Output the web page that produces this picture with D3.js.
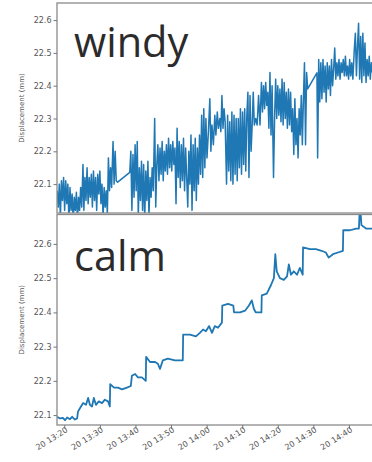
<!DOCTYPE html>
<html>
<head>
<meta charset="utf-8">
<script src="https://cdn.jsdelivr.net/npm/d3@7"></script>
<style>
  body { margin: 0; background: #fff; }
  svg { display: block; }
</style>
</head>
<body>
<div id="chart"></div>
<script>
// minutes after 13:20 on day 20, displacement in mm
const windyData = [
  [-2.0,22.08],[-1.7,22.03],[-1.4,22.10],[-1.1,22.0],[-0.8,22.11],[-0.5,22.05],[-0.2,22.12],[0.1,22.02],[0.4,22.11],[0.7,22.04],
  [1.0,22.10],[1.3,21.99],[1.6,22.09],[1.9,22.02],[2.2,22.07],[2.5,21.99],
  [2.8,22.06],[3.1,22.02],[3.4,22.075],[3.7,21.99],[4.0,22.06],[4.3,22.02],
  [4.6,22.09],[4.9,22.03],[5.25,22.16],[5.5,22.02],[5.8,22.12],[6.1,22.05],
  [6.4,22.15],[6.7,22.04],[7.0,22.12],[7.3,22.06],[7.6,22.13],[7.9,22.03],
  [8.2,22.14],[8.5,22.05],[8.8,22.12],[9.1,22.02],[9.4,22.13],[9.7,22.07],[10.0,22.14],
  [10.3,22.04],[10.6,22.10],[10.9,22.0],[11.2,22.09],[11.5,22.03],[11.8,22.08],[12.1,22.01],
  [12.4,22.18],[12.7,22.08],[13.0,22.15],[13.3,22.09],
  [13.7,22.23],[14.0,22.10],[14.3,22.20],[14.6,22.11],
  [15.0,22.106],[18.4,22.136],
  [18.7,22.20],[19.0,22.02],[19.3,22.19],[19.6,22.06],
  [19.9,22.22],[20.2,22.08],[20.5,22.23],[20.8,22.0],[21.1,22.15],[21.4,22.05],
  [21.7,22.17],[22.0,22.02],[22.3,22.16],[22.6,21.99],[22.9,22.14],[23.2,22.05],[23.5,22.17],[23.8,22.0],[24.1,22.12],
  [24.4,22.06],[24.7,22.15],[25.0,22.08],[25.4,22.30],[25.7,22.03],[26.0,22.16],
  [26.3,22.22],[26.6,22.11],[26.9,22.21],[27.2,22.13],[27.5,22.23],[27.8,22.11],[28.1,22.20],[28.4,22.14],[28.7,22.22],
  [29.0,22.13],[29.3,22.24],[29.6,22.15],[29.9,22.22],[30.2,22.14],[30.5,22.23],[30.8,22.16],
  [31.1,22.21],[31.4,22.04],[31.7,22.27],[32.0,22.12],
  [32.3,22.23],[32.6,22.09],[32.9,22.22],[33.2,22.11],[33.5,22.24],[33.8,22.08],[34.1,22.21],[34.4,22.12],[34.7,22.03],
  [35.0,22.20],[35.3,22.10],[35.6,22.25],[35.9,22.02],[36.2,22.22],[36.5,22.08],[36.8,22.24],[37.1,22.05],[37.4,22.21],[37.7,22.10],[38.0,22.25],
  [38.3,22.13],[38.6,22.31],[38.9,22.12],[39.2,22.33],[39.5,22.15],[39.8,22.30],
  [40.1,22.18],[40.5,22.26],[40.9,22.36],[41.2,22.20],[41.5,22.28],
  [41.9,22.22],[42.3,22.31],[42.6,22.25],[43.0,22.32],[43.3,22.27],[43.7,22.30],
  [44.0,22.26],[44.3,22.37],[44.6,22.27],[44.9,22.33],
  [45.2,22.29],[45.6,22.10],[45.9,22.31],[46.2,22.14],[46.5,22.29],
  [46.8,22.11],[47.1,22.32],[47.4,22.10],[47.7,22.31],[48.0,22.13],[48.3,22.30],[48.6,22.11],
  [48.9,22.30],[49.2,22.15],[49.5,22.33],[49.8,22.13],[50.1,22.32],[50.4,22.16],[50.7,22.33],[51.0,22.14],[51.3,22.31],
  [51.6,22.38],[51.9,22.12],[52.2,22.37],[52.5,22.20],
  [52.8,22.28],[53.1,22.38],[53.4,22.28],[53.8,22.30],[54.2,22.28],[54.6,22.37],[55.0,22.28],
  [55.4,22.41],[55.7,22.32],[56.0,22.40],[56.3,22.33],[56.6,22.41],[56.9,22.34],
  [57.2,22.38],[57.5,22.27],[57.8,22.44],[58.1,22.25],[58.4,22.40],[58.8,22.12],[59.1,22.30],
  [59.4,22.42],[59.7,22.30],[60.0,22.40],[60.3,22.31],[60.6,22.39],
  [60.9,22.29],[61.2,22.42],[61.5,22.28],[61.8,22.41],[62.1,22.30],[62.4,22.38],
  [62.7,22.27],[63.0,22.39],[63.3,22.28],[63.6,22.38],[63.9,22.26],
  [64.2,22.33],[64.5,22.19],[64.8,22.36],[65.1,22.22],[65.4,22.30],[65.7,22.18],[66.0,22.33],
  [66.3,22.25],[66.6,22.37],[66.9,22.22],
  [67.2,22.36],[67.5,22.47],[67.8,22.22],[68.1,22.44],[68.4,22.39],
  [71.0,22.439],
  [71.2,22.18],[71.5,22.48],[71.8,22.35],
  [72.1,22.47],[72.4,22.36],[72.7,22.48],[73.0,22.38],[73.3,22.46],[73.6,22.35],
  [73.9,22.47],[74.2,22.39],[74.5,22.46],[74.8,22.37],[75.1,22.48],[75.4,22.40],
  [75.7,22.45],[76.0,22.515],[76.3,22.42],[76.6,22.47],
  [76.9,22.43],[77.2,22.48],[77.5,22.42],[77.8,22.47],[78.1,22.44],[78.4,22.48],[78.7,22.43],
  [79.0,22.49],[79.3,22.43],[79.6,22.46],[79.9,22.42],[80.2,22.48],[80.5,22.43],[80.8,22.47],
  [81.1,22.42],[81.5,22.51],[81.8,22.56],[82.1,22.43],
  [82.4,22.52],[82.7,22.59],[83.0,22.42],[83.3,22.55],
  [83.6,22.41],[83.9,22.56],[84.2,22.43],[84.5,22.53],[84.8,22.41],
  [85.1,22.48],[85.4,22.43],[85.7,22.49],[86.0,22.42],[86.3,22.47],[86.6,22.44]
];

const calmData = [
  [-2.05,22.095],[-1.2,22.09],[-0.4,22.092],[0.2,22.085],[0.8,22.093],[1.6,22.088],[2.2,22.095],[3.0,22.087],[3.6,22.09],
  [3.85,22.11],[4.4,22.12],[5.3,22.135],[6.1,22.13],[6.7,22.15],[7.2,22.13],[7.8,22.125],[8.3,22.15],[8.9,22.13],
  [9.7,22.14],[10.6,22.135],[11.4,22.145],[12.3,22.14],[12.8,22.125],
  [12.9,22.19],[14.0,22.18],[15.1,22.18],[16.2,22.175],[17.6,22.18],[18.7,22.185],
  [19.0,22.215],[19.9,22.22],[20.7,22.21],[21.8,22.21],[22.9,22.20],
  [23.0,22.27],[24.1,22.255],[25.5,22.255],[26.3,22.25],[26.9,22.235],[27.7,22.26],[29.1,22.265],[31.1,22.26],[33.3,22.26],
  [33.4,22.335],[35.3,22.335],[37.0,22.33],[38.1,22.34],[39.0,22.35],[39.8,22.345],[40.7,22.36],[41.5,22.34],[42.3,22.36],[43.2,22.355],[44.3,22.37],
  [44.4,22.42],[46.0,22.425],[47.5,22.42],[47.7,22.40],[49.4,22.40],[50.8,22.405],[51.9,22.42],[52.7,22.435],[53.3,22.41],[53.8,22.40],[55.4,22.40],
  [55.5,22.45],[56.9,22.455],[58.1,22.48],[58.9,22.50],[59.3,22.57],[59.7,22.52],[60.6,22.50],[61.7,22.495],[62.6,22.505],
  [63.1,22.54],[63.7,22.51],[64.5,22.52],[65.4,22.51],[66.2,22.53],[67.0,22.51],
  [67.1,22.59],[69.0,22.585],[70.7,22.585],[72.3,22.58],[73.5,22.575],[74.3,22.56],[75.5,22.57],[76.9,22.575],[78.3,22.58],
  [78.4,22.64],[80.3,22.64],[82.0,22.645],[82.8,22.645],[83.1,22.72],[83.5,22.655],[84.8,22.645],[86.5,22.645]
];

const yTicks = [22.1, 22.2, 22.3, 22.4, 22.5, 22.6];
const windyDomain = [22.012, 22.652];
const calmDomain = [22.071, 22.686];
const panelNames = ["windy", "calm"];

const width = 372, height = 462;
const left = 57, right = 376;
const blue = "#1f77b4";
const base = new Date(2021, 0, 20, 13, 20);
const toDate = m => new Date(base.getTime() + m * 60000);

const svg = d3.select("#chart").append("svg")
  .attr("width", width)
  .attr("height", height);

const x = d3.scaleTime()
  .domain([toDate(-2.05), toDate(87.6)])
  .range([left, right]);

const panels = [
  {name: panelNames[0], data: windyData, domain: windyDomain, top: 3, bottom: 213, labelY: 57, showX: false},
  {name: panelNames[1], data: calmData, domain: calmDomain, top: 214.5, bottom: 425, labelY: 271, showX: true}
];

panels.forEach((p, i) => {
  const y = d3.scaleLinear().domain(p.domain).range([p.bottom, p.top]);
  const g = svg.append("g");

  g.append("clipPath").attr("id", "clip" + i)
    .append("rect")
    .attr("x", left).attr("y", p.top)
    .attr("width", right - left).attr("height", p.bottom - p.top);

  const line = d3.line()
    .x(d => x(toDate(d[0])))
    .y(d => y(d[1]));

  g.append("path")
    .datum(p.data)
    .attr("clip-path", "url(#clip" + i + ")")
    .attr("fill", "none")
    .attr("stroke", blue)
    .attr("stroke-width", i === 0 ? 1.5 : 1.8)
    .attr("stroke-linejoin", "round")
    .attr("d", line);

  // frame
  g.append("rect")
    .attr("x", left).attr("y", p.top)
    .attr("width", right - left).attr("height", p.bottom - p.top)
    .attr("fill", "none")
    .attr("stroke", "#8a8a8a")
    .attr("stroke-width", 1.3);

  const yAxis = d3.axisLeft(y).tickValues(yTicks).tickSize(3.5).tickPadding(2)
    .tickFormat(d3.format(".1f"));
  const ya = g.append("g").attr("transform", `translate(${left},0)`).call(yAxis);
  ya.select(".domain").remove();
  ya.selectAll("line").attr("stroke", "#777");
  ya.selectAll("text")
    .attr("fill", "#555")
    .style("font-family", "DejaVu Sans")
    .style("font-size", "8px");

  g.append("text")
    .attr("transform", `translate(24,${(p.top + p.bottom) / 2}) rotate(-90)`)
    .attr("text-anchor", "middle")
    .attr("fill", "#555")
    .style("font-family", "DejaVu Sans")
    .style("font-size", "7px")
    .text("Displacement (mm)");

  g.append("text")
    .attr("x", 74)
    .attr("y", p.labelY)
    .attr("fill", "#2b2b2b")
    .style("font-family", "Open Sans")
    .style("font-size", "41.5px")
    .text(p.name);

  if (p.showX) {
    const xAxis = d3.axisBottom(x)
      .ticks(d3.timeMinute.every(10))
      .tickSize(3.5)
      .tickFormat(d3.timeFormat("%d %H:%M"));
    const xa = g.append("g").attr("transform", `translate(0,${p.bottom})`).call(xAxis);
    xa.select(".domain").remove();
    xa.selectAll("line").attr("stroke", "#777");
    xa.selectAll("text")
      .attr("fill", "#555")
      .attr("text-anchor", "end")
      .attr("transform", "translate(2,4) rotate(-32)")
      .attr("y", 0).attr("dy", "0.35em").attr("x", 0)
      .style("font-family", "DejaVu Sans")
      .style("font-size", "8px");
  }
});
</script>
</body>
</html>
